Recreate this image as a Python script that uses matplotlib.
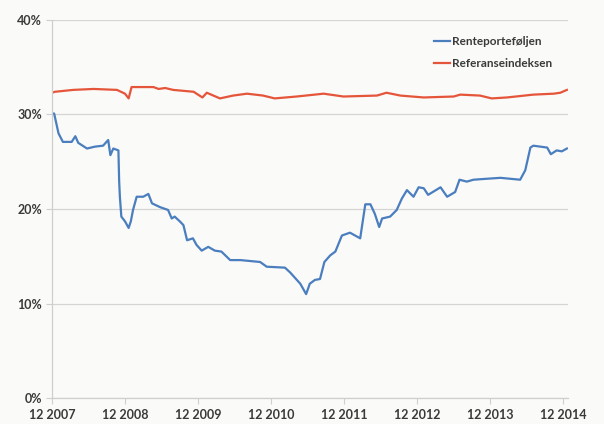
import matplotlib
matplotlib.use("Agg")
import matplotlib.pyplot as plt

# Years since Dec 2007
blue_t = [0.0, 0.03, 0.09, 0.15, 0.27, 0.32, 0.36, 0.48, 0.59, 0.70, 0.77, 0.80, 0.84,
          0.91, 0.92, 0.93, 0.95, 1.00, 1.05, 1.08, 1.11, 1.16, 1.25, 1.32, 1.37, 1.48,
          1.59, 1.64, 1.68, 1.75, 1.80, 1.85, 1.93, 1.98, 2.05, 2.14, 2.23, 2.32, 2.44,
          2.58, 2.85, 2.94, 3.19, 3.26, 3.40, 3.48, 3.53, 3.60, 3.67, 3.73, 3.81, 3.88,
          3.97, 4.08, 4.22, 4.29, 4.36, 4.42, 4.48, 4.52, 4.63, 4.72, 4.79, 4.86, 4.95,
          5.02, 5.09, 5.15, 5.32, 5.41, 5.52, 5.58, 5.68, 5.77, 5.95, 6.14, 6.41, 6.48,
          6.55, 6.59, 6.78, 6.83, 6.91, 6.98, 7.05]
blue_v = [30.1, 30.1, 28.0, 27.1, 27.1, 27.7, 27.0, 26.4, 26.6, 26.7, 27.3, 25.7, 26.4,
          26.2, 23.0, 21.3, 19.2, 18.7, 18.0, 18.7, 19.9, 21.3, 21.3, 21.6, 20.6, 20.2,
          19.9, 19.0, 19.2, 18.7, 18.3, 16.7, 16.9, 16.2, 15.6, 16.0, 15.6, 15.5, 14.6,
          14.6, 14.4, 13.9, 13.8, 13.3, 12.1, 11.0, 12.1, 12.5, 12.6, 14.4, 15.1, 15.5,
          17.2, 17.5, 16.9, 20.5, 20.5, 19.5, 18.1, 19.0, 19.2, 19.9, 21.1, 22.0, 21.3,
          22.3, 22.2, 21.5, 22.3, 21.3, 21.8, 23.1, 22.9, 23.1, 23.2, 23.3, 23.1, 24.1,
          26.5, 26.7, 26.5, 25.8, 26.2, 26.1, 26.4]

red_t = [0.0, 0.04, 0.29, 0.57, 0.89, 1.00, 1.05, 1.09, 1.39, 1.46, 1.55, 1.66, 1.94,
         2.06, 2.12, 2.21, 2.30, 2.48, 2.67, 2.89, 3.05, 3.35, 3.72, 3.99, 4.45, 4.58,
         4.77, 5.09, 5.50, 5.59, 5.86, 6.02, 6.23, 6.59, 6.87, 6.96, 7.05]
red_v = [32.3, 32.4, 32.6, 32.7, 32.6, 32.2, 31.7, 32.9, 32.9, 32.7, 32.8, 32.6, 32.4,
         31.8, 32.3, 32.0, 31.7, 32.0, 32.2, 32.0, 31.7, 31.9, 32.2, 31.9, 32.0, 32.3,
         32.0, 31.8, 31.9, 32.1, 32.0, 31.7, 31.8, 32.1, 32.2, 32.3, 32.6]

x_ticks = [0, 1, 2, 3, 4, 5, 6, 7]
x_labels = ["12 2007", "12 2008", "12 2009", "12 2010", "12 2011", "12 2012", "12 2013", "12 2014"]
y_ticks = [0, 10, 20, 30, 40]
y_labels = ["0%", "10%", "20%", "30%", "40%"]

bg = "#fafaf8"
fig = plt.figure(figsize=(6.04, 4.24), dpi=100, facecolor=bg)
ax = fig.add_axes([0.086, 0.061, 0.855, 0.892], facecolor=bg)

ax.plot(blue_t, blue_v, color="#4a7ebf", lw=1.6, label="Renteporteføljen")
ax.plot(red_t, red_v, color="#e5553a", lw=1.6, label="Referanseindeksen")

ax.set_xlim(0, 7.07)
ax.set_ylim(0, 40)
ax.set_xticks(x_ticks)
ax.set_xticklabels(x_labels)
ax.set_yticks(y_ticks)
ax.set_yticklabels(y_labels)
ax.grid(axis="y", color="#d4d4d4", lw=0.9)
ax.set_axisbelow(True)
for s in ["top", "right"]:
    ax.spines[s].set_visible(False)
for s in ["left", "bottom"]:
    ax.spines[s].set_color("#cfcfcf")
    ax.spines[s].set_linewidth(0.9)
ax.tick_params(axis="x", colors="#cfcfcf", labelcolor="#3a3a3a", length=4, labelsize=9, pad=4)
ax.tick_params(axis="y", colors="#cfcfcf", labelcolor="#3a3a3a", length=4, labelsize=9, pad=3)
for lab in ax.get_xticklabels() + ax.get_yticklabels():
    lab.set_fontweight("bold")
    lab.set_family("Lato")

leg = ax.legend(loc="upper right", bbox_to_anchor=(0.99, 0.985), frameon=False,
                handlelength=1.4, handletextpad=0.2, labelspacing=0.9,
                prop={"family": "Lato", "size": 8.5, "weight": "bold"})
for t in leg.get_texts():
    t.set_color("#3a3a3a")

fig.savefig("out.png", dpi=100, facecolor=bg)
